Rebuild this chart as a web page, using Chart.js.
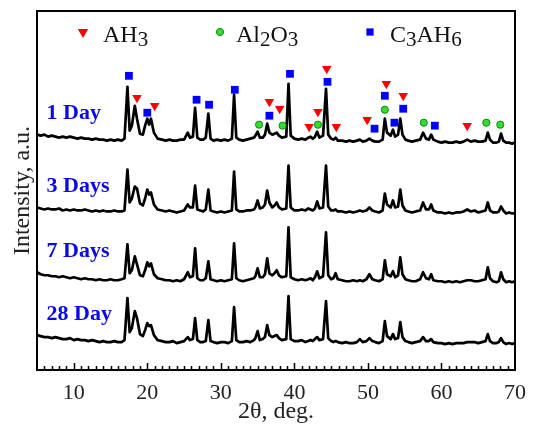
<!DOCTYPE html>
<html>
<head>
<meta charset="utf-8">
<script src="https://cdn.jsdelivr.net/npm/chart.js@4"></script>
<style>
  html, body { margin: 0; padding: 0; background: #fff; }
</style>
</head>
<body>
<canvas id="xrdChart" width="538" height="424"></canvas>
<script>
// 2-theta positions (deg) shared by all four patterns
const twoTheta = [
  5.0, 5.5, 6.0, 6.5, 7.0, 7.5, 8.0, 8.5, 9.0, 9.5,
  10.0, 10.5, 11.0, 11.5, 12.0, 12.5, 13.0, 13.5, 14.0, 14.5,
  15.0, 15.5, 16.0, 16.5, 16.9, 17.3, 17.6, 17.9, 18.3, 18.6,
  19.0, 19.4, 19.7, 20.0, 20.25, 20.5, 20.9, 21.4, 22.0, 22.5,
  23.0, 23.5, 24.0, 24.5, 25.0, 25.5, 25.8, 26.2, 26.5, 26.8,
  27.2, 27.6, 27.95, 28.3, 28.6, 29.0, 29.5, 30.0, 30.5, 31.0,
  31.5, 31.8, 32.1, 32.5, 33.0, 33.5, 34.0, 34.5, 34.7, 35.0,
  35.3, 35.7, 36.0, 36.3, 36.6, 37.0, 37.3, 37.6, 37.9, 38.3,
  38.9, 39.2, 39.5, 40.0, 40.5, 41.0, 41.5, 41.9, 42.2, 42.5,
  42.8, 43.1, 43.4, 43.9, 44.3, 44.6, 45.0, 45.3, 45.6, 45.9,
  46.5, 47.0, 47.5, 48.0, 48.5, 48.9, 49.3, 49.8, 50.2, 50.6,
  51.0, 51.5, 52.0, 52.3, 52.6, 53.1, 53.4, 53.7, 54.1, 54.4,
  54.7, 55.1, 55.5, 56.0, 56.5, 57.1, 57.5, 57.9, 58.3, 58.6,
  58.9, 59.5, 60.0, 60.5, 61.0, 61.5, 62.0, 62.5, 63.0, 63.5,
  64.0, 64.5, 65.0, 65.5, 66.0, 66.3, 66.6, 67.0, 67.5, 67.8,
  68.1, 68.4, 68.8, 69.2, 69.6, 70.0
];

// intensities (a.u., already stacked)
const day1 = [
  236, 235, 236, 234, 235, 234, 233, 234, 233, 234,
  233, 232, 233, 232, 232, 231, 232, 231, 231, 230,
  231, 230, 231, 230, 232, 284, 240, 245, 265, 252,
  237, 236, 245, 252, 246, 252, 238, 232, 231, 230,
  231, 230, 230, 231, 231, 238, 233, 234, 263, 233,
  231, 231, 233, 257, 232, 230, 231, 230, 231, 230,
  232, 276, 233, 231, 230, 231, 232, 233, 235, 239,
  233, 233, 236, 247, 238, 236, 237, 238, 235, 233,
  234, 287, 235, 232, 231, 232, 231, 233, 234, 232,
  234, 239, 233, 235, 282, 236, 232, 231, 233, 230,
  230, 229, 230, 229, 230, 231, 229, 230, 232, 230,
  229, 229, 231, 252, 238, 235, 241, 234, 236, 252,
  236, 231, 230, 229, 230, 231, 238, 232, 231, 236,
  231, 229, 228, 229, 228, 228, 229, 228, 229, 231,
  229, 230, 229, 229, 230, 238, 231, 228, 228, 229,
  237, 230, 228, 228, 227, 228
];
const day3 = [
  163, 162, 161, 162, 161, 161, 162, 160, 161, 160,
  161, 160, 160, 161, 160, 159, 160, 159, 160, 159,
  159, 160, 159, 159, 160, 201, 168, 172, 184, 182,
  167, 165, 172, 181, 176, 178, 166, 161, 160, 159,
  160, 159, 158, 159, 160, 166, 163, 163, 185, 161,
  160, 159, 161, 181, 160, 159, 158, 159, 158, 159,
  160, 199, 161, 159, 159, 160, 160, 161, 163, 170,
  162, 163, 166, 180, 168, 163, 165, 168, 163, 161,
  162, 205, 163, 160, 160, 161, 160, 162, 161, 160,
  162, 169, 162, 163, 205, 164, 160, 160, 161, 159,
  159, 158, 159, 158, 159, 160, 159, 160, 163, 160,
  159, 158, 160, 177, 166, 163, 170, 163, 164, 181,
  165, 160, 159, 158, 159, 160, 168, 161, 161, 166,
  160, 158, 158, 157, 158, 157, 158, 158, 159, 161,
  159, 160, 158, 159, 160, 168, 160, 158, 158, 159,
  164, 160, 157, 158, 157, 157
];
const day7 = [
  98, 96, 95, 95, 94, 94, 93, 94, 93, 92,
  93, 92, 91, 92, 91, 91, 90, 91, 90, 90,
  91, 90, 90, 91, 92, 126, 97, 100, 114, 106,
  95, 94, 100, 108, 104, 107, 96, 92, 91, 90,
  90, 89, 90, 89, 91, 98, 93, 94, 122, 92,
  90, 90, 92, 109, 91, 90, 89, 90, 89, 90,
  91, 127, 92, 90, 89, 90, 91, 92, 94, 102,
  93, 93, 96, 112, 97, 95, 97, 100, 95, 93,
  94, 143, 93, 91, 90, 91, 90, 91, 92, 90,
  93, 99, 92, 94, 138, 95, 91, 92, 97, 91,
  90, 89, 89, 90, 89, 90, 89, 91, 96, 91,
  90, 89, 91, 110, 96, 94, 99, 93, 95, 113,
  96, 91, 90, 89, 89, 91, 98, 92, 91, 96,
  90, 89, 89, 88, 89, 88, 89, 88, 89, 90,
  90, 89, 89, 90, 91, 103, 92, 89, 88, 89,
  98, 91, 88, 89, 88, 89
];
const day28 = [
  35, 34, 33, 33, 32, 33, 32, 31, 31, 32,
  30, 31, 30, 30, 29, 30, 29, 28, 29, 28,
  28, 29, 28, 28, 30, 72, 38, 42, 59, 52,
  36, 34, 40, 47, 44, 45, 35, 30, 29, 28,
  28, 29, 27, 28, 29, 33, 30, 31, 52, 30,
  28, 28, 29, 50, 29, 28, 27, 28, 28, 27,
  29, 63, 30, 28, 28, 29, 28, 30, 32, 39,
  30, 31, 33, 45, 35, 33, 34, 35, 32, 30,
  31, 74, 31, 29, 29, 30, 28, 29, 30, 29,
  31, 33, 30, 31, 69, 32, 29, 28, 29, 28,
  27, 28, 27, 27, 28, 31, 28, 29, 32, 29,
  28, 27, 29, 49, 34, 31, 36, 31, 32, 48,
  33, 29, 28, 27, 28, 29, 33, 29, 29, 31,
  28, 27, 27, 26, 27, 26, 27, 27, 27, 28,
  28, 28, 27, 28, 29, 36, 29, 27, 27, 28,
  32, 28, 26, 27, 26, 27
];
const ageLabels = ["1 Day", "3 Days", "7 Days", "28 Day"];

// phase markers above the 1 Day pattern
const ah3X = [18.6, 21.0, 36.6, 38.0, 42.0, 43.2, 44.4, 45.7, 49.9, 52.5, 54.8, 63.5];
const ah3Y = [273, 265, 269, 262, 244, 259, 302, 244, 251, 287, 275, 245];
const al2o3X = [35.2, 38.4, 43.2, 52.3, 57.6, 66.1, 68.0];
const al2o3Y = [246, 245, 246, 261, 248, 248, 246];
const c3ah6X = [17.5, 20.0, 26.7, 28.4, 31.9, 36.6, 39.4, 44.5, 50.9, 52.3, 53.6, 54.8, 59.1];
const c3ah6Y = [295, 258, 271, 266, 281, 255, 297, 289, 242, 275, 248, 262, 245];
// legend names, alternating normal / subscript parts
const phaseNames = [["AH", "3"], ["Al", "2", "O", "3"], ["C", "3", "AH", "6"]];

const series = [day1, day3, day7, day28];
const serif = "'Liberation Serif', 'Times New Roman', serif";

const toXY = (xs, ys) => xs.map((x, i) => ({ x: x, y: ys[i] }));

const triColor = "#ff0000", dotColor = "#33dd33", sqColor = "#0000ff";

function marker(ctx, kind, x, y, r) {
  ctx.beginPath();
  if (kind === 0) {
    ctx.fillStyle = triColor;
    ctx.moveTo(x - r * 0.87, y - r * 0.5);
    ctx.lineTo(x + r * 0.87, y - r * 0.5);
    ctx.lineTo(x, y + r);
    ctx.closePath();
    ctx.fill();
  } else if (kind === 1) {
    ctx.fillStyle = dotColor;
    ctx.strokeStyle = "#118811";
    ctx.lineWidth = 1;
    ctx.arc(x, y, r * 0.6, 0, Math.PI * 2);
    ctx.fill();
    ctx.stroke();
  } else {
    ctx.fillStyle = sqColor;
    ctx.fillRect(x - r * 0.6, y - r * 0.6, r * 1.2, r * 1.2);
  }
}

const xrdDecor = {
  id: "xrdDecor",
  afterDatasetsDraw(chart) {
    const { ctx, chartArea: a, scales } = chart;
    const sx = scales.x, sy = scales.y;
    ctx.save();
    // frame
    ctx.strokeStyle = "#000";
    ctx.lineWidth = 2;
    ctx.strokeRect(a.left, a.top, a.right - a.left, a.bottom - a.top);
    // inward minor/major ticks on the bottom axis
    ctx.lineWidth = 1.5;
    ctx.beginPath();
    for (let v = 6; v < 70; v++) {
      const px = Math.round(sx.getPixelForValue(v)) + 0.5;
      const len = v % 10 === 0 ? 7 : 4;
      ctx.moveTo(px, a.bottom);
      ctx.lineTo(px, a.bottom - len);
    }
    ctx.stroke();
    // age labels
    ctx.font = "bold 22px " + serif;
    ctx.fillStyle = "#0a0ae6";
    ctx.textBaseline = "middle";
    ageLabels.forEach((t, i) => {
      ctx.fillText(t, sx.getPixelForValue(6.3), sy.getPixelForValue(series[i][0] + 21));
    });
    // legend with subscripts
    const mx = [83, 220, 370], tx = [103, 236, 390], ly = 42;
    ctx.textBaseline = "alphabetic";
    phaseNames.forEach((parts, k) => {
      marker(ctx, k, mx[k], 32, 6);
      let x = tx[k];
      ctx.fillStyle = "#111";
      parts.forEach((p, j) => {
        const sub = j % 2 === 1;
        ctx.font = (sub ? "21px " : "24px ") + serif;
        ctx.fillText(p, x, ly + (sub ? 4 : 0));
        x += ctx.measureText(p).width;
      });
    });
    ctx.restore();
  }
};

const traceSets = series.map((s, i) => ({
  label: ageLabels[i],
  data: toXY(twoTheta, s),
  borderColor: "#000",
  borderWidth: 2.7,
  borderJoinStyle: "round",
  pointRadius: 0,
  tension: 0,
  order: 2
}));

const markerSets = [
  { label: "AH3", data: toXY(ah3X, ah3Y), pointStyle: "triangle", rotation: 180,
    pointRadius: 5.5, backgroundColor: triColor, borderColor: triColor, borderWidth: 0 },
  { label: "Al2O3", data: toXY(al2o3X, al2o3Y), pointStyle: "circle",
    pointRadius: 3.6, backgroundColor: dotColor, borderColor: "#118811", borderWidth: 1 },
  { label: "C3AH6", data: toXY(c3ah6X, c3ah6Y), pointStyle: "rect",
    pointRadius: 5.5, backgroundColor: sqColor, borderColor: sqColor, borderWidth: 0 }
].map(d => Object.assign(d, { type: "scatter", showLine: false, order: 1 }));

const xrdChart = new Chart(document.getElementById("xrdChart").getContext("2d"), {
  type: "line",
  data: { datasets: traceSets.concat(markerSets) },
  options: {
    responsive: false,
    animation: false,
    layout: { padding: { top: 11, right: 12, bottom: 0, left: 0 } },
    plugins: { legend: { display: false }, tooltip: { enabled: false } },
    scales: {
      x: {
        type: "linear",
        min: 5,
        max: 70,
        afterFit: (scale) => { scale.height = 54; },
        grid: { display: false, drawTicks: false },
        border: { display: false },
        ticks: {
          stepSize: 10,
          includeBounds: false,
          padding: 12,
          color: "#222",
          font: { family: serif, size: 22, lineHeight: 1 }
        },
        title: {
          display: true,
          text: "2θ, deg.",
          color: "#222",
          padding: 0,
          font: { family: serif, size: 24, lineHeight: 1 }
        }
      },
      y: {
        min: 0,
        max: 360,
        afterFit: (scale) => { scale.width = 37; },
        grid: { display: false, drawTicks: false },
        border: { display: false },
        ticks: { display: false },
        title: {
          display: true,
          text: "Intensity, a.u.",
          color: "#222",
          padding: { top: 8, bottom: 1 },
          font: { family: serif, size: 24, lineHeight: 1.2 }
        }
      }
    }
  },
  plugins: [xrdDecor]
});
</script>
</body>
</html>
